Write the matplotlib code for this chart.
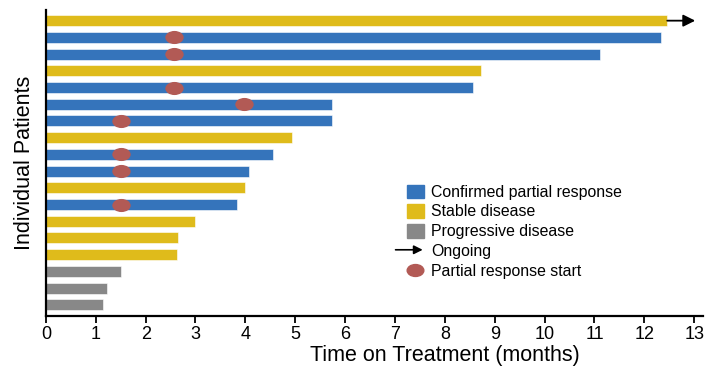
import numpy as np
import matplotlib
matplotlib.use("Agg")
import matplotlib.pyplot as plt
from matplotlib.patches import Patch, FancyArrowPatch
from matplotlib.lines import Line2D
from matplotlib.path import Path
from matplotlib.legend_handler import HandlerBase

plt.rcParams["font.family"] = ["Liberation Sans", "DejaVu Sans"]

# ----------------------------
# Data (top patient first)
# ----------------------------
durations = [12.46, 12.34, 11.12, 8.72, 8.56, 5.74, 5.74, 4.94, 4.56,
             4.07, 4.00, 3.84, 2.98, 2.65, 2.62, 1.51, 1.22, 1.15]
response = ["SD", "PR", "PR", "SD", "PR", "PR", "PR", "SD", "PR",
            "PR", "SD", "PR", "SD", "SD", "SD", "PD", "PD", "PD"]
pr_start = [None, 2.56, 2.56, None, 2.56, 3.98, 1.51, None, 1.51,
            1.51, None, 1.51, None, None, None, None, None, None]
ongoing = [True] + [False] * 17
arrow_end = 13.02

colors = {"PR": "#3574bb", "SD": "#dfbb1b", "PD": "#888888"}
marker_color = "#b25a55"

# ellipse marker (wider than tall)
circ = Path.unit_circle()
ellipse = Path(circ.vertices * np.array([1.4, 1.0]), circ.codes)

n = len(durations)
ypos = np.arange(n)[::-1]

fig = plt.figure(figsize=(7.06, 3.69), dpi=100)
ax = fig.add_axes([0.065, 0.144, 0.931, 0.829])

ax.barh(ypos, durations, height=0.66, color=[colors[r] for r in response],
        edgecolor="white", linewidth=0.4)

for y, s in zip(ypos, pr_start):
    if s is not None:
        ax.scatter([s], [y], marker=ellipse, s=175, color=marker_color,
                   zorder=3, linewidths=0)

for y, d, o in zip(ypos, durations, ongoing):
    if o:
        ax.annotate("", xy=(arrow_end, y), xytext=(d, y),
                    arrowprops=dict(arrowstyle="-|>", color="black", lw=1.3,
                                    mutation_scale=18, shrinkA=0, shrinkB=0))

ax.set_xlim(0, 13.18)
ax.set_ylim(-0.66, n - 1 + 0.64)
ax.set_xticks(range(14))
ax.set_yticks([])
ax.spines["top"].set_visible(False)
ax.spines["right"].set_visible(False)
ax.spines["left"].set_linewidth(1.6)
ax.spines["bottom"].set_linewidth(1.6)
ax.tick_params(axis="x", labelsize=13, length=5, width=1.3, pad=2)
ax.set_xlabel("Time on Treatment (months)", fontsize=15.5, labelpad=3)
ax.xaxis.set_label_coords(0.607, -0.095)
ax.set_ylabel("Individual Patients", fontsize=15.5, labelpad=8)


class ArrowKey:
    pass


class ArrowHandler(HandlerBase):
    def create_artists(self, legend, orig_handle, xdescent, ydescent,
                       width, height, fontsize, trans):
        a = FancyArrowPatch((-xdescent - 10, height / 2),
                            (width - xdescent + 1, height / 2),
                            arrowstyle="-|>", mutation_scale=13,
                            color="black", lw=1.2, transform=trans)
        return [a]


handles = [Patch(color=colors["PR"]), Patch(color=colors["SD"]),
           Patch(color=colors["PD"]), ArrowKey(),
           Line2D([], [], ls="", marker=ellipse, markersize=12,
                  color=marker_color)]
labels = ["Confirmed partial response", "Stable disease",
          "Progressive disease", "Ongoing", "Partial response start"]

fig.legend(handles, labels, loc="upper left", bbox_to_anchor=(0.576, 0.500),
           frameon=False, fontsize=11.4, handlelength=1.1, handleheight=0.9,
           handletextpad=0.45, labelspacing=0.31, borderpad=0,
           borderaxespad=0, handler_map={ArrowKey: ArrowHandler()})

fig.savefig("out.png", dpi=100)
